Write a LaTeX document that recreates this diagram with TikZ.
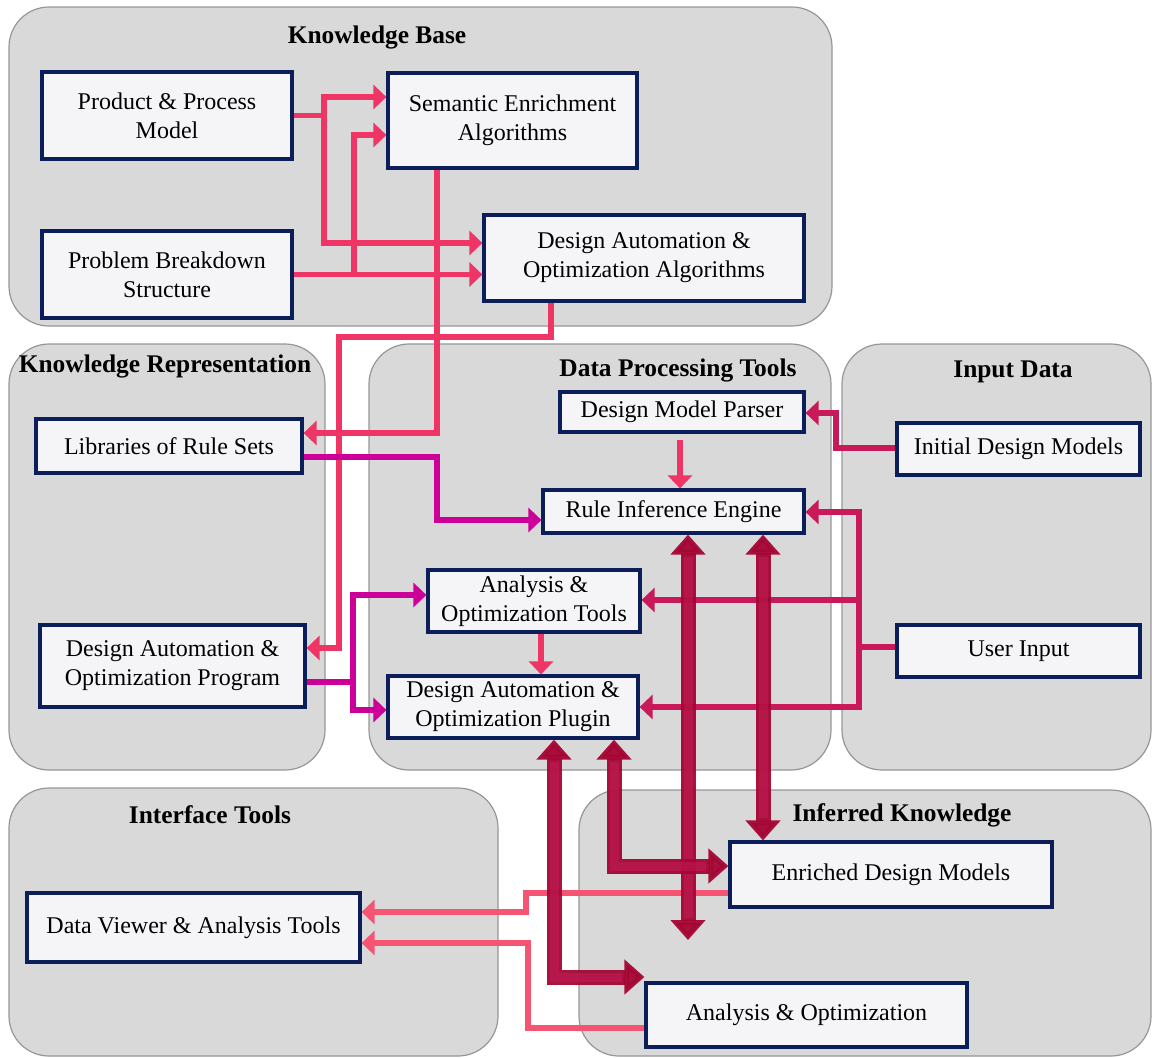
\documentclass[tikz,border=0pt]{standalone}
\usepackage{fontspec}
\setmainfont{Liberation Serif}
\usetikzlibrary{arrows.meta}
\definecolor{panelfill}{RGB}{217,217,217}
\definecolor{panelline}{RGB}{150,150,150}
\definecolor{navy}{RGB}{12,30,90}
\definecolor{boxfill}{RGB}{245,245,247}
\definecolor{kbpink}{RGB}{239,52,102}
\definecolor{magline}{RGB}{204,0,153}
\definecolor{crim}{RGB}{200,25,90}
\definecolor{bigred}{RGB}{165,6,52}
\definecolor{bigshine}{RGB}{205,35,95}
\definecolor{ifpink}{RGB}{245,85,115}
\tikzset{
  panel/.style={draw=panelline, line width=0.6pt, fill=panelfill, rounded corners=20pt},
  ptitle/.style={font=\fontsize{12.7}{15}\selectfont\bfseries, inner sep=0pt},
  box/.style={draw=navy, line width=1.6pt, fill=boxfill, align=center, inner sep=0pt,
              font=\fontsize{12}{14.5}\selectfont},
  thin/.style={line width=2.75pt},
  tip/.style={-{Triangle[width=12pt,length=6.5pt]}},
  kb/.style={thin, draw=kbpink},
  mag/.style={thin, draw=magline},
  cr/.style={thin, draw=crim},
  ifc/.style={thin, draw=ifpink},
  big/.style={line width=7.5pt, draw=bigred, opacity=0.95,
              {Triangle[width=17pt,length=10pt]}-{Triangle[width=17pt,length=10pt]}},
  shine/.style={line width=4.5pt, draw=bigshine, opacity=0.4, shorten <=11pt, shorten >=11pt},
}
\begin{document}
\begin{tikzpicture}[x=0.5pt, y=-0.5pt]
\useasboundingbox (0,0) rectangle (1152,1057);

% panels
\draw[panel] (9,7) rectangle (832,326);
\draw[panel] (9,344) rectangle (325,770);
\draw[panel] (369,344) rectangle (831,770);
\draw[panel] (842,344) rectangle (1151,770);
\draw[panel] (9,788) rectangle (498,1056);
\draw[panel] (579,790) rectangle (1151,1056);

% panel titles
\node[ptitle] (tkb) at (377,37) {Knowledge Base};
\node[ptitle] (tkr) at (165,366) {Knowledge Representation};
\node[ptitle] (tdp) at (678,370) {Data Processing Tools};
\node[ptitle] (tid) at (1013,372) {Input Data};
\node[ptitle] (tit) at (210,815) {Interface Tools};
\node[ptitle] (tik) at (902,815) {Inferred Knowledge};

% boxes
\node[box, minimum width=125pt, minimum height=43.5pt] (ppm) at (167,115.5) {Product \& Process\\Model};
\node[box, minimum width=125pt, minimum height=43.5pt] (pbs) at (167,274.5) {Problem Breakdown\\Structure};
\node[box, minimum width=124.5pt, minimum height=47.5pt] (sea) at (512.5,120.5) {Semantic Enrichment\\Algorithms};
\node[box, minimum width=160pt, minimum height=43pt] (daoa) at (644,258) {Design Automation \&\\Optimization Algorithms};
\node[box, minimum width=133pt, minimum height=27pt] (lib) at (169,446) {Libraries of Rule Sets};
\node[box, minimum width=132.5pt, minimum height=41pt] (prog) at (172.5,666) {Design Automation \&\\Optimization Program};
\node[box, minimum width=122pt, minimum height=20pt] (parser) at (682,412) {Design Model Parser};
\node[box, minimum width=130.5pt, minimum height=21.5pt] (rie) at (673.5,511.5) {Rule Inference Engine};
\node[box, minimum width=106pt, minimum height=31pt] (aot) at (534,601) {Analysis \&\\Optimization Tools};
\node[box, minimum width=125pt, minimum height=31pt] (plugin) at (513,707) {Design Automation \&\\Optimization Plugin};
\node[box, minimum width=121.5pt, minimum height=26pt] (init) at (1018.5,449) {Initial Design Models};
\node[box, minimum width=121.5pt, minimum height=26pt] (user) at (1018.5,651) {User Input};
\node[box, minimum width=166.5pt, minimum height=34.5pt] (viewer) at (193.5,927.5) {Data Viewer \& Analysis Tools};
\node[box, minimum width=161pt, minimum height=32.5pt] (enriched) at (891,874.5) {Enriched Design Models};
\node[box, minimum width=160.5pt, minimum height=32pt] (ao) at (806.5,1015) {Analysis \& Optimization};

% junction coordinates
\coordinate (j1) at (324,115.5);
\coordinate (j2) at (354,274.5);
\coordinate (j3) at (353,682);
\coordinate (ju) at (859,647);
\coordinate (bigend) at (688,940);

% Knowledge base connectors
\draw[kb] (ppm.east) -- (j1);
\draw[kb,tip] (j1) |- (sea.west |- 0,97);
\draw[kb,tip] (j1) |- (daoa.west |- 0,243);
\draw[kb,tip] (pbs.east) -- (pbs.east -| daoa.west);
\draw[kb,tip] (j2) |- (sea.west |- 0,135);
\draw[kb,tip] (sea.south -| 437,0) |- (lib.east |- 0,433);
\draw[kb,tip] (daoa.south -| 551,0) |- (339,337) |- (prog.east |- 0,648);

% magenta connectors
\draw[mag,tip] (lib.east |- 0,457) -| (437,520) -- (rie.west |- 0,520);
\draw[mag] (prog.east |- 0,682) -- (j3);
\draw[mag,tip] (j3) |- (aot.west |- 0,595);
\draw[mag,tip] (j3) |- (plugin.west |- 0,710);

% data processing internal
\draw[kb,tip] ([yshift=-3pt]parser.south -| 680,0) -- (rie.north -| 680,0);
\draw[kb,tip] (aot.south -| 541,0) -- (plugin.north -| 541,0);

% input data connectors
\draw[cr,tip] (init.west |- 0,448) -| (836,413) -- (parser.east |- 0,413);
\draw[cr] (user.west |- 0,647) -- (ju);
\draw[cr,tip] (ju) |- (rie.east |- 0,512);
\draw[cr,tip] (ju) |- (aot.east |- 0,600);
\draw[cr,tip] (ju) |- (plugin.east |- 0,707);

% interface connectors
\draw[ifc,tip] (enriched.west |- 0,893) -| (526,912) -- (viewer.east |- 0,912);
\draw[ifc,tip] (ao.west |- 0,1028) -| (528,943) -- (viewer.east |- 0,943);

% big double arrows
\draw[big] (rie.south -| 688,0) -- (bigend);
\draw[shine] (rie.south -| 688,0) -- (bigend);
\draw[big] (rie.south -| 763,0) -- (enriched.north -| 763,0);
\draw[shine] (rie.south -| 763,0) -- (enriched.north -| 763,0);
\draw[big] (plugin.south -| 614,0) |- (enriched.west |- 0,866);
\draw[shine] (plugin.south -| 614,0) |- (enriched.west |- 0,866);
\draw[big] (plugin.south -| 554,0) |- (ao.west |- 0,977);
\draw[shine] (plugin.south -| 554,0) |- (ao.west |- 0,977);
\end{tikzpicture}
\end{document}
